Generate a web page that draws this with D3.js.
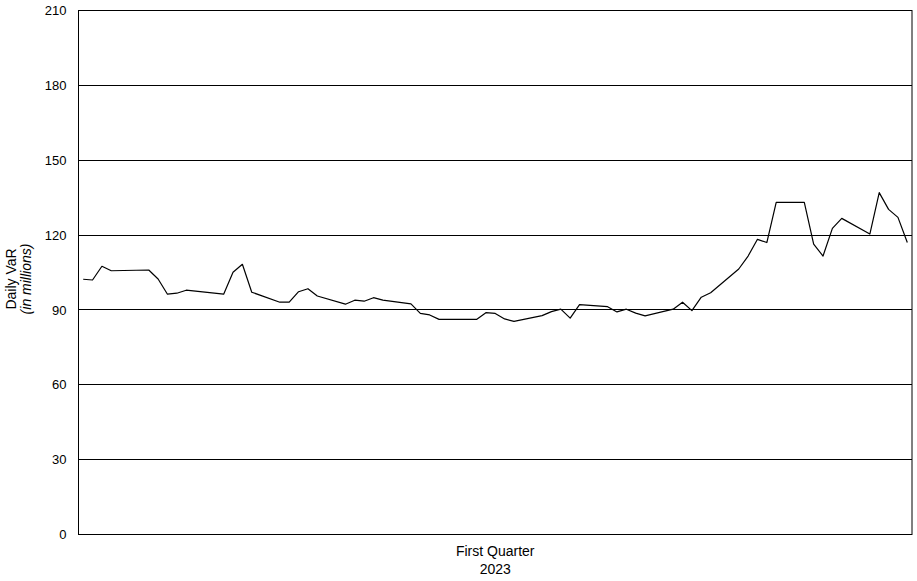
<!DOCTYPE html>
<html>
<head>
<meta charset="utf-8">
<script src="https://cdn.jsdelivr.net/npm/d3@7"></script>
<style>
  html, body { margin: 0; padding: 0; background: #fff; }
  svg { display: block; font-family: "Liberation Sans", Arial, sans-serif; }
</style>
</head>
<body>
<svg id="chart" width="917" height="581"></svg>
<script>
// Day offsets within the quarter (calendar days) and daily VaR values (in millions)
const days = [0, 1, 2, 3, 7, 8, 9, 10, 11, 15, 16, 17, 18, 21, 22, 23, 24, 25,
  28, 29, 30, 31, 32, 35, 36, 37, 38, 42, 43, 44, 45, 46, 49, 50, 51, 52, 53,
  56, 57, 58, 59, 60, 63, 64, 65, 66, 67, 70, 71, 72, 73, 74, 77, 78, 79, 80,
  81, 84, 85, 86, 87, 88];
const varValues = [102.1, 101.8, 107.3, 105.5, 105.8, 102.2, 96.1, 96.5, 97.7,
  96.1, 104.9, 108.1, 96.9, 92.9, 92.9, 97.1, 98.3, 95.4,
  92.1, 93.7, 93.3, 94.7, 93.7, 92.2, 88.4, 87.8, 86.0, 86.0, 88.7, 88.4, 86.2,
  85.2, 87.5, 89.1, 90.1, 86.5, 91.9,
  91.1, 89.0, 90.1, 88.5, 87.4, 90.1, 92.9, 89.5, 94.9, 96.7, 106.2, 111.4,
  118.1, 116.8, 132.9, 132.9, 116.2, 111.4, 122.5,
  126.5, 120.2, 136.8, 130.1, 126.9, 116.8];
const yTicks = [0, 30, 60, 90, 120, 150, 180, 210];
const xTitle = ["First Quarter", "2023"];
const yTitle = ["Daily VaR", "(in millions)"];

const svg = d3.select("#chart");
const pL = 78.5, pR = 912, pT = 10, pB = 534;

const x = d3.scaleLinear().domain([-0.5, 88.5]).range([pL, pR]);
const y = d3.scaleLinear().domain([0, 210]).range([pB, pT]);

// horizontal gridlines
svg.append("g")
  .selectAll("line")
  .data(yTicks)
  .join("line")
  .attr("x1", pL).attr("x2", pR)
  .attr("y1", d => Math.round(y(d)) + 0.5)
  .attr("y2", d => Math.round(y(d)) + 0.5)
  .attr("stroke", "#000").attr("stroke-width", 1);

// y axis
const yAxis = d3.axisLeft(y).tickValues(yTicks).tickSize(0).tickPadding(12);
const gy = svg.append("g").attr("transform", `translate(${pL},0.5)`).call(yAxis);
gy.select(".domain").remove();
gy.selectAll("text").attr("font-size", 13).attr("fill", "#000")
  .attr("font-family", "Liberation Sans, Arial, sans-serif");

// plot frame (left and right sides)
svg.append("line").attr("x1", pL).attr("x2", pL).attr("y1", pT).attr("y2", pB + 1)
  .attr("stroke", "#000");
svg.append("line").attr("x1", pR).attr("x2", pR).attr("y1", pT).attr("y2", pB + 1)
  .attr("stroke", "#000");

// line
const line = d3.line().x((d, i) => x(days[i])).y(d => y(d));
svg.append("path")
  .datum(varValues)
  .attr("d", line)
  .attr("fill", "none")
  .attr("stroke", "#000")
  .attr("stroke-width", 1.2)
  .attr("stroke-linejoin", "round");

// x title
const cx = (pL + pR) / 2;
svg.append("text").attr("x", cx).attr("y", 556).attr("text-anchor", "middle")
  .attr("font-size", 14).text(xTitle[0]);
svg.append("text").attr("x", cx).attr("y", 574).attr("text-anchor", "middle")
  .attr("font-size", 14).text(xTitle[1]);

// y title
const cy = 279;
svg.append("text").attr("transform", `translate(16,${cy}) rotate(-90)`)
  .attr("text-anchor", "middle").attr("font-size", 14).text(yTitle[0]);
svg.append("text").attr("transform", `translate(31,${cy}) rotate(-90)`)
  .attr("text-anchor", "middle").attr("font-size", 14).attr("font-style", "italic").text(yTitle[1]);
</script>
</body>
</html>
